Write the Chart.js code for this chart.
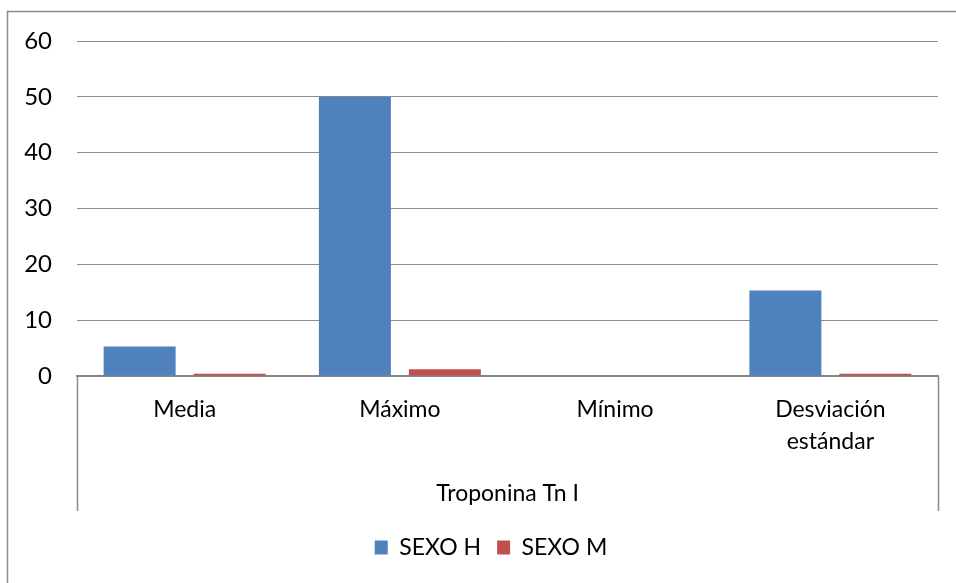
<!DOCTYPE html>
<html>
<head>
<meta charset="utf-8">
<script src="https://cdn.jsdelivr.net/npm/chart.js@4/dist/chart.umd.min.js"></script>
<style>
  html, body { margin: 0; padding: 0; background: #fff; }
  canvas { display: block; }
</style>
</head>
<body>
<canvas id="c" width="956" height="583"></canvas>
<script>
// Categories and series
const categories = ['Media', 'Máximo', 'Mínimo', ['Desviación', 'estándar']];
const groupLabel = 'Troponina Tn I';
const seriesNames = ['SEXO H', 'SEXO M'];
const sexoH = [5.3, 50, 0, 15.3];
const sexoM = [0.4, 1.2, 0, 0.4];
const yTicks = [0, 10, 20, 30, 40, 50, 60];

const FONT = 'Lato';
const GRID = '#8c8c8c';
const AXIS_RIGHT = 77;   // x where the plot area begins
const BOX_DEPTH = 135;   // depth of the multi-level category box
const LEGEND_SHIFT = 22; // centre the legend inside the outer frame

// Frame around the chart, the box under the category axis and its group label
const framePlugin = {
  id: 'frame',
  afterLayout(chart) {
    if (chart.legend) {
      chart.legend.left += LEGEND_SHIFT;
      chart.legend.right += LEGEND_SHIFT;
    }
  },
  afterDraw(chart) {
    const { ctx, chartArea } = chart;
    ctx.save();
    ctx.strokeStyle = GRID;
    ctx.lineWidth = 1.5;
    // outer frame (left and top edges are inside the canvas)
    ctx.beginPath();
    ctx.moveTo(7.5, chart.height + 5);
    ctx.lineTo(7.5, 11.5);
    ctx.lineTo(chart.width + 5, 11.5);
    ctx.stroke();
    // multi-level category box sides
    const boxBottom = chartArea.bottom + BOX_DEPTH;
    ctx.beginPath();
    ctx.moveTo(chartArea.left + 0.5, chartArea.bottom);
    ctx.lineTo(chartArea.left + 0.5, boxBottom);
    ctx.moveTo(chartArea.right + 0.5, chartArea.bottom);
    ctx.lineTo(chartArea.right + 0.5, boxBottom);
    ctx.stroke();
    // group label
    ctx.fillStyle = '#000';
    ctx.font = '23px ' + FONT;
    ctx.textAlign = 'center';
    ctx.textBaseline = 'middle';
    ctx.fillText(groupLabel, (chartArea.left + chartArea.right) / 2, boxBottom - 17);
    ctx.restore();
  }
};

new Chart(document.getElementById('c'), {
  type: 'bar',
  data: {
    labels: categories,
    datasets: [
      { label: seriesNames[0], data: sexoH, backgroundColor: '#4F81BD' },
      { label: seriesNames[1], data: sexoM, backgroundColor: '#C0504D' }
    ]
  },
  options: {
    responsive: false,
    animation: false,
    devicePixelRatio: 1,
    categoryPercentage: 0.836,
    barPercentage: 0.8,
    layout: { padding: { top: 41, right: 18, left: 0, bottom: 14 } },
    plugins: {
      legend: {
        position: 'bottom',
        labels: {
          font: { family: FONT, size: 23 },
          color: '#000',
          boxWidth: 13,
          boxHeight: 14,
          padding: 16
        }
      },
      tooltip: { enabled: false }
    },
    scales: {
      x: {
        grid: { display: false, drawTicks: false },
        border: { display: true, color: '#858585', width: 2 },
        ticks: {
          color: '#000',
          font: { family: FONT, size: 23, lineHeight: 1.4 },
          padding: 17,
          maxRotation: 0,
          autoSkip: false
        },
        afterFit(scale) { scale.height = 144; }
      },
      y: {
        min: 0,
        max: 60,
        afterBuildTicks(scale) { scale.ticks = yTicks.map(v => ({ value: v })); },
        grid: { color: GRID, lineWidth: 1, drawTicks: false },
        border: { display: false },
        ticks: {
          color: '#000',
          font: { family: FONT, size: 24 },
          padding: 25
        },
        afterFit(scale) { scale.width = AXIS_RIGHT; }
      }
    }
  },
  plugins: [framePlugin]
});
</script>
</body>
</html>
